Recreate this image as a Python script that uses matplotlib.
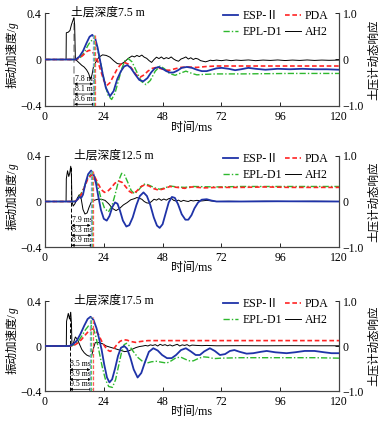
import matplotlib
matplotlib.use('Agg')
import matplotlib.pyplot as plt

plt.rcParams['font.family'] = ['Liberation Serif', 'Noto Sans CJK SC']

# ---- data ----
depth_labels = ['土层深度7.5 m', '土层深度12.5 m', '土层深度17.5 m']
ref_times = [11.9, 10.75, 10.0]          # AH2 reference instant, ms
delays = [[7.8, 8.1, 8.6], [7.9, 8.3, 8.9], [8.5, 8.9, 9.5]]   # ESP, EPL, PDA lag, ms
x_ticks = [0, 24, 48, 72, 96, 120]

# 7.5 m
t_esp_75 = [0, 12.5, 14, 15.5, 17, 18.2, 19.3, 20.5, 21.5, 22.4, 23.5, 24.8, 26.5, 28, 29.5, 31, 32.3, 33.6, 35, 36.8,
            38.5, 40.1, 41.8, 43.3, 44.8, 46.3, 48, 49.5, 51, 52.4, 54, 55.8, 57.9, 60, 62, 64, 66, 68, 70, 72.1,
            75, 77.6, 80, 83, 86, 90, 95, 100, 105, 110, 115, 120]
esp_75 = [0, 0, 0.06, 0.18, 0.36, 0.49, 0.53, 0.45, 0.25, 0.0, -0.3, -0.6, -0.79, -0.68, -0.42, -0.25, -0.15, -0.12, -0.18, -0.32,
          -0.44, -0.47, -0.4, -0.28, -0.19, -0.16, -0.2, -0.25, -0.28, -0.28, -0.24, -0.18, -0.16, -0.18, -0.22, -0.25, -0.25, -0.22, -0.19, -0.18,
          -0.2, -0.23, -0.21, -0.18, -0.2, -0.22, -0.2, -0.21, -0.2, -0.21, -0.21, -0.22]
t_pda_75 = [0, 12.5, 14, 15.5, 17, 18.1, 19.3, 20.5, 21.5, 22.8, 24, 25.2, 26.5, 28, 29.5, 31, 32.7, 34, 35.5, 37.2,
            38.8, 40.5, 42, 43.8, 45.6, 47.5, 49.5, 51, 53, 55.5, 58, 62, 66, 70, 80, 100, 120]
pda_75 = [0, 0, 0.03, 0.09, 0.17, 0.2, 0.17, 0.08, -0.03, -0.25, -0.45, -0.56, -0.5, -0.35, -0.2, -0.1, -0.07, -0.1, -0.2, -0.33,
          -0.38, -0.33, -0.25, -0.19, -0.17, -0.2, -0.23, -0.23, -0.2, -0.17, -0.16, -0.17, -0.15, -0.14, -0.14, -0.14, -0.14]
t_epl_75 = [0, 13, 14.5, 16, 17.5, 18.7, 19.7, 20.8, 22, 23, 24.3, 25.8, 27.2, 28.6, 30, 31.3, 32.6, 34, 35.5, 37.3,
            39.3, 41.2, 43, 45, 47, 48.8, 50.8, 53.1, 55, 57.5, 60, 62, 65, 70, 80, 100, 120]
epl_75 = [0, 0, 0.05, 0.15, 0.3, 0.4, 0.42, 0.32, 0.1, -0.15, -0.5, -0.78, -0.86, -0.72, -0.45, -0.2, -0.03, 0.02, -0.05, -0.25,
          -0.47, -0.54, -0.45, -0.25, -0.14, -0.2, -0.3, -0.34, -0.3, -0.25, -0.3, -0.33, -0.32, -0.31, -0.31, -0.3, -0.3]
t_ah2_75 = [0, 8.6, 8.7, 9.5, 10.2, 10.8, 11.8, 12.1, 12.4, 13, 14, 15, 16, 17, 17.8, 18.6, 19.2, 19.8, 20.8, 22,
            23.5, 25, 26.5, 28, 29.5, 31, 32.5, 34, 35.5, 36.5, 37.5, 38.5, 39.5, 40.5, 41.5, 42.5, 43.5, 44.5, 45.5, 46.5,
            47.5, 48.5, 49.5, 50.5, 51.5, 52.5, 53.5, 54.5, 55.5, 56.5, 57.5, 58.5, 59.5, 60.5, 61.5, 62.5, 63.5, 64.5, 65.5, 66.5,
            67.5, 68.5, 70, 72, 74, 76, 78, 80, 83, 86, 89, 92, 95, 98, 101, 104, 107, 110, 113, 116, 120]
ah2_75 = [0, 0, 0.23, 0.235, 0.25, 0.3, 0.36, 0.3, 0.0, -0.01, -0.03, -0.05, -0.065, -0.09, -0.12, -0.17, -0.13, -0.06, -0.02, 0.02,
          0.04, 0.035, 0.02, -0.01, -0.035, -0.04, -0.02, 0.01, 0.03, 0.022, 0.035, 0.025, 0.038, 0.02, 0.01, -0.01, -0.025, 0.0, 0.02, 0.008,
          0.022, 0.005, 0.016, 0.008, 0.022, 0.004, -0.008, -0.015, 0.004, 0.012, 0.022, 0.004, 0.015, 0.0, 0.01, 0.004, -0.01, -0.015, -0.02, -0.014,
          -0.006, -0.01, -0.005, -0.01, -0.004, -0.01, -0.005, -0.008, -0.004, -0.01, -0.005, -0.008, -0.004, -0.009, -0.005, -0.008, -0.004, -0.008, -0.005, -0.007,
          -0.005]

# 12.5 m
t_esp_125 = [0, 12.5, 13.3, 14.1, 14.8, 15.5, 16.5, 17.6, 18.8, 19.8, 20.8, 21.8, 22.8, 24, 25.2, 26.3, 27.5, 28.6, 29.6, 30.6,
             31.8, 33.2, 34.4, 35.8, 37.3, 38.7, 40.2, 41.6, 43, 44.4, 45.7, 46.8, 48, 49.3, 50.5, 51.8, 53, 54.3, 55.8, 57.3,
             58.5, 59.8, 61, 62.5, 64, 66, 68, 70, 80, 95, 120]
esp_125 = [0, 0, 0.05, 0.1, 0.08, 0.15, 0.4, 0.6, 0.68, 0.6, 0.4, 0.1, -0.18, -0.38, -0.42, -0.32, -0.12, -0.02, -0.05, -0.2,
           -0.42, -0.55, -0.52, -0.35, -0.08, 0.12, 0.2, 0.12, -0.08, -0.35, -0.53, -0.58, -0.5, -0.25, -0.02, 0.1, 0.08, -0.06, -0.28, -0.4,
           -0.4, -0.3, -0.15, -0.02, 0.04, 0.05, 0.02, 0.0, 0.0, 0.005, 0.0]
t_pda_125 = [0, 12, 13.5, 14.5, 16, 17.5, 19.2, 20.5, 21.8, 23, 24.3, 25.5, 27, 28.5, 30, 31.5, 33, 34.5, 35.8, 37.3,
             39, 40.8, 42.5, 44.5, 46.5, 48.5, 51, 54, 57, 60, 65, 70, 80, 90, 100, 110, 120]
pda_125 = [0, 0, 0.05, 0.12, 0.3, 0.5, 0.59, 0.52, 0.38, 0.26, 0.2, 0.22, 0.3, 0.4, 0.45, 0.42, 0.32, 0.22, 0.18, 0.22,
           0.32, 0.37, 0.34, 0.28, 0.25, 0.28, 0.33, 0.31, 0.29, 0.32, 0.3, 0.31, 0.31, 0.32, 0.31, 0.31, 0.31]
t_epl_125 = [0, 12, 13.5, 14.5, 16, 17.5, 19, 20.3, 21.5, 22.8, 24.3, 25.9, 27.3, 28.6, 30, 31.3, 32.5, 33.8, 35.2, 36.6,
             38.2, 39.8, 41, 42.8, 44.8, 46.8, 49, 51, 54, 57, 60, 70, 80, 100, 120]
epl_125 = [0, 0, 0.06, 0.15, 0.32, 0.52, 0.62, 0.55, 0.35, 0.08, -0.15, -0.23, -0.1, 0.15, 0.45, 0.62, 0.58, 0.42, 0.24, 0.17,
           0.25, 0.36, 0.39, 0.35, 0.3, 0.27, 0.3, 0.34, 0.32, 0.31, 0.33, 0.32, 0.33, 0.33, 0.33]
t_ah2_125 = [0, 8.6, 8.7, 9.2, 9.7, 10.1, 10.5, 10.8, 11.0, 11.5, 12.2, 13.2, 14, 14.8, 15.5, 16.3, 17.2, 18, 19, 20,
             21.5, 23, 24.5, 26, 27.5, 29, 30.5, 32, 33.5, 35, 36.5, 37.5, 38.5, 39.5, 40.5, 41.5, 42.5, 43.5, 44.5, 45.5,
             46.5, 47.5, 48.5, 49.5, 50.5, 51.5, 52.5, 53.5, 54.5, 55.5, 56.5, 57.5, 58.5, 59.5, 60.5, 62, 64, 66, 68, 70,
             75, 80, 90, 100, 110, 120]
ah2_125 = [0, 0, 0.2, 0.27, 0.22, 0.25, 0.31, 0.22, 0.0, -0.04, -0.02, 0.03, 0.06, 0.02, -0.07, -0.11, -0.1, -0.05, 0.0, 0.01,
           0.02, 0.02, 0.01, -0.02, -0.06, -0.08, -0.06, -0.03, -0.01, 0.015, 0.025, 0.035, 0.028, 0.02, 0.0, -0.012, -0.015, 0.0, 0.02, 0.012,
           0.025, 0.01, 0.022, 0.012, 0.025, 0.03, 0.01, 0.004, 0.012, 0.0, 0.01, 0.004, 0.0, 0.01, 0.005, 0.01, 0.005, 0.01, 0.005, 0.0,
           0.002, 0.0, 0.002, 0.0, 0.002, 0.0]

# 17.5 m
t_esp_175 = [0, 10, 11.5, 13, 14.5, 16, 17.4, 18.6, 19.8, 21, 22, 23.1, 24.2, 25.3, 26.3, 27.4, 28.6, 29.8, 31, 32.3,
             33.5, 34.8, 36.2, 37.8, 39.3, 40.8, 42.4, 44.2, 46, 47.8, 49.8, 51.7, 53.5, 55.5, 57.5, 59.5, 61.5, 63.2, 65, 67.3,
             69.3, 71.4, 73.5, 75.5, 77.3, 79.5, 82.3, 85, 88, 90.5, 94, 98.6, 102, 106, 110, 114, 117, 120]
esp_175 = [0, 0, 0.04, 0.12, 0.27, 0.45, 0.6, 0.65, 0.58, 0.4, 0.18, -0.08, -0.42, -0.7, -0.81, -0.74, -0.5, -0.22, -0.04, 0.0,
           -0.06, -0.25, -0.52, -0.7, -0.6, -0.36, -0.13, -0.05, -0.1, -0.2, -0.27, -0.27, -0.2, -0.09, -0.05, -0.12, -0.2, -0.2, -0.12, -0.05,
           -0.11, -0.2, -0.18, -0.11, -0.09, -0.13, -0.17, -0.16, -0.13, -0.11, -0.14, -0.16, -0.14, -0.11, -0.11, -0.14, -0.16, -0.16]
t_pda_175 = [0, 10.5, 12, 13.5, 15, 16.5, 18, 19.3, 20.5, 21.8, 23, 24.3, 25.5, 26.6, 27.8, 29.2, 30.5, 32, 33.5, 35,
             37, 39, 42, 45, 50, 60, 80, 100, 120]
pda_175 = [0, 0, 0.02, 0.07, 0.15, 0.25, 0.34, 0.38, 0.35, 0.26, 0.12, 0.0, -0.09, -0.12, -0.08, 0.02, 0.1, 0.14, 0.13, 0.1,
           0.08, 0.1, 0.12, 0.12, 0.12, 0.12, 0.12, 0.12, 0.12]
t_epl_175 = [0, 10.5, 12, 13.5, 15, 16.5, 17.8, 18.8, 19.8, 20.8, 22, 23.3, 24.7, 26, 27.5, 28.8, 30, 31.2, 32.3, 33.3,
             34.5, 36, 38, 40, 41.5, 43.5, 45.5, 47.5, 49.7, 51.5, 53.5, 55.5, 57.5, 59, 60.5, 62.5, 64.5, 66.5, 69, 72,
             80, 90, 100, 110, 120]
epl_175 = [0, 0, 0.03, 0.1, 0.22, 0.36, 0.45, 0.46, 0.38, 0.2, -0.1, -0.45, -0.75, -0.9, -0.92, -0.75, -0.45, -0.15, 0.03, 0.06,
           0.0, -0.12, -0.26, -0.35, -0.38, -0.35, -0.34, -0.36, -0.38, -0.33, -0.26, -0.25, -0.3, -0.33, -0.33, -0.28, -0.24, -0.25, -0.28, -0.27,
           -0.26, -0.26, -0.26, -0.26, -0.27]
t_ah2_175 = [0, 8.7, 8.8, 9.5, 10.0, 10.5, 10.8, 11.0, 11.5, 12.4, 13.2, 14, 15, 16, 17, 18, 19, 19.8, 20.5, 22,
             23.5, 25, 26.5, 28, 29.5, 31, 32.5, 34, 35.5, 37, 38.5, 40, 41, 42, 43, 44, 45, 46, 47, 48,
             49, 50, 51, 52, 53, 54, 55, 56, 57, 58, 59, 60, 62, 64, 66, 70, 80, 90, 100, 110, 120]
ah2_175 = [0, 0, 0.22, 0.29, 0.24, 0.3, 0.2, 0.0, 0.02, 0.08, 0.06, 0.02, -0.03, -0.06, -0.08, -0.09, -0.09, -0.02, 0.03, 0.03,
           0.02, 0.0, -0.01, -0.02, -0.03, -0.04, -0.05, -0.045, -0.03, -0.015, -0.005, 0.0, 0.005, 0.0, 0.01, 0.005, 0.012, 0.0, 0.015, 0.005,
           0.012, 0.002, 0.01, 0.0, 0.008, 0.015, 0.0, 0.01, 0.005, 0.012, 0.0, 0.008, 0.005, 0.003, 0.005, 0.002, 0.003, 0.002, 0.003, 0.002,
           0.002]

panels = [
    (t_esp_75, esp_75, t_pda_75, pda_75, t_epl_75, epl_75, t_ah2_75, ah2_75),
    (t_esp_125, esp_125, t_pda_125, pda_125, t_epl_125, epl_125, t_ah2_125, ah2_125),
    (t_esp_175, esp_175, t_pda_175, pda_175, t_epl_175, epl_175, t_ah2_175, ah2_175),
]

# ---- styling ----
c_esp, c_pda, c_epl = '#1f33a8', '#ff2424', '#2eb82e'
c_esp_l, c_pda_l, c_epl_l = '#7f9be2', '#ff5a5a', '#5ccc5c'
fs_tick = 8.5
fs_lab = 8.3

W, H = 386, 423
fig = plt.figure(figsize=(W / 100, H / 100), dpi=100)

# axes boxes in pixels: (top, bottom)
boxes = [(13, 106), (156, 247), (301, 391)]
x_left, x_right = 45, 339

arrow_rows = [-0.21, -0.297, -0.385]

for i, (box, data) in enumerate(zip(boxes, panels)):
    top, bot = box
    t_esp, esp, t_pda, pda, t_epl, epl, t_ah2, ah2 = data
    ax = fig.add_axes([x_left / W, 1 - bot / H, (x_right - x_left) / W, (bot - top) / H])
    ax2 = ax.twinx()

    ax.set_xlim(0, 120)
    ax.set_ylim(-0.4, 0.4)
    ax2.set_ylim(-1.0, 1.0)

    # AH2 acceleration on the left axis
    l_ah2, = ax.plot(t_ah2, ah2, color='black', lw=0.7, zorder=3)

    # reference dashed line at AH2 instant
    t0 = ref_times[i]
    ref_col = '#a8a8a8' if i == 0 else 'black'
    ref_lw = 1.3 if i == 0 else 0.7
    ax.plot([t0, t0], [-0.4, max(ah2)], color=ref_col, lw=ref_lw, ls=(0, (4, 2)), zorder=2)

    # lag arrows and labels
    for d, yy in zip(delays[i], arrow_rows):
        ax.annotate('', xy=(t0 + d, yy), xytext=(t0, yy),
                    arrowprops=dict(arrowstyle='<|-|>', lw=0.5, color='black',
                                    mutation_scale=4, shrinkA=0, shrinkB=0), zorder=4)
        ax.text(t0 + 0.3, yy + 0.012, f'{d} ms', fontsize=5.6, ha='left', va='bottom', zorder=4)

    # earth pressure gauges on the right axis
    l_epl, = ax2.plot(t_epl, epl, color=c_epl, lw=1.0, ls=(0, (4.5, 1.5, 1, 1.5)), zorder=3)
    l_pda, = ax2.plot(t_pda, pda, color=c_pda, lw=1.2, ls=(0, (2.8, 1.6)), zorder=4)
    l_esp, = ax2.plot(t_esp, esp, color=c_esp, lw=1.3, zorder=5)

    top_v = max(esp)
    for d, col in zip(delays[i], [c_esp_l, c_epl_l, c_pda_l]):
        ax2.plot([t0 + d, t0 + d], [-1.0, top_v], color=col, lw=0.9, ls=(0, (3, 1.5)), zorder=6)

    # axes cosmetics
    for a in (ax, ax2):
        a.spines['top'].set_visible(False)
        for s in ('left', 'right', 'bottom'):
            a.spines[s].set_linewidth(0.8)
            a.spines[s].set_color('#444444')
    ax.set_xticks(x_ticks)
    ax.set_xticklabels([str(v) for v in x_ticks])
    ax.set_yticks([-0.4, 0, 0.4])
    ax.set_yticklabels(['\u22120.4', '0', '0.4'])
    ax2.set_yticks([-1.0, 0, 1.0])
    ax2.set_yticklabels(['\u22121.0', '0', '1.0'])
    ax.tick_params(axis='x', direction='in', length=3, width=0.6, labelsize=fs_tick, pad=3.5)
    ax.tick_params(axis='y', direction='in', length=3, width=0.6, labelsize=fs_tick, pad=2.5)
    ax2.tick_params(axis='y', direction='in', length=3, width=0.6, labelsize=fs_tick, pad=2.5)

    ax.set_xlabel('时间/ms', fontsize=fs_lab + 0.3)
    ax.xaxis.set_label_coords(0.5, -0.17)

    # left label with italic g
    lab = ax.text(-0.11, 0.19, '振动加速度/', transform=ax.transAxes, rotation=90,
                  ha='center', va='bottom', fontsize=fs_lab)
    ax.annotate('g', xy=(0.5, 1.0), xycoords=lab, ha='center', va='bottom', rotation=90,
                fontsize=fs_lab, fontstyle='italic')
    ax2.text(1.12, 0.5, '土压计动态响应', transform=ax.transAxes, rotation=90,
             ha='center', va='center', fontsize=fs_lab)

    ax.text(0.088 if i == 0 else 0.098, 1.0, depth_labels[i], transform=ax.transAxes,
            ha='left', va='center', fontsize=8.5)

    ax2.legend([l_esp, l_epl, l_pda, l_ah2], ['ESP-Ⅱ', 'EPL-D1', 'PDA', 'AH2'],
               ncol=2, loc='upper right', bbox_to_anchor=(0.965, 1.03), frameon=False,
               fontsize=8.5, handlelength=1.3, handletextpad=0.35, columnspacing=0.3,
               labelspacing=0.3, borderpad=0, borderaxespad=0)

fig.savefig('out.png', dpi=100)
